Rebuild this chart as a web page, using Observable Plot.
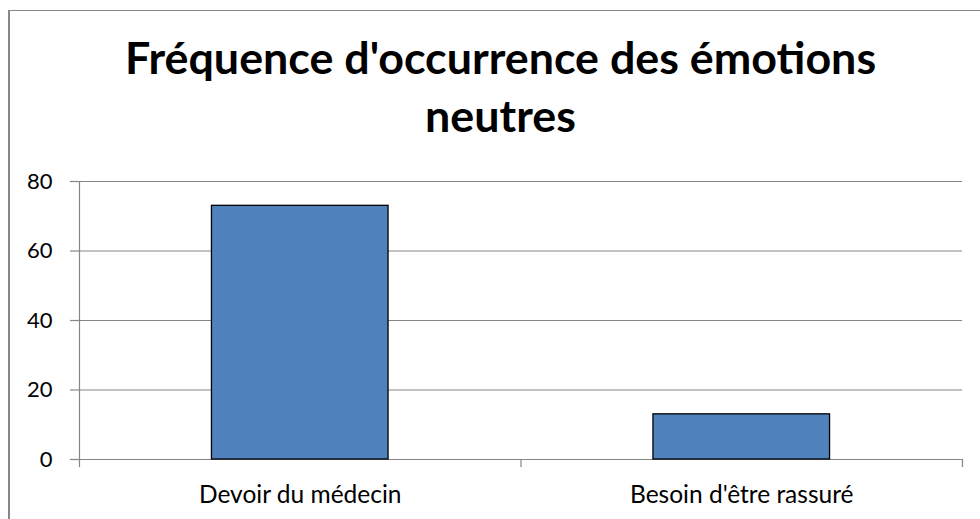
<!DOCTYPE html>
<html>
<head>
<meta charset="utf-8">
<script src="https://cdn.jsdelivr.net/npm/d3@7"></script>
<script src="https://cdn.jsdelivr.net/npm/@observablehq/plot@0.6"></script>
<style>
  html, body { margin: 0; padding: 0; background: #fff; }
  #wrap { position: relative; width: 980px; height: 519px; overflow: hidden; background: #fff; }
  #frame { position: absolute; left: 8px; top: 10px; width: 1100px; height: 700px;
           border-left: 2px solid #878787; border-top: 1.5px solid #878787; box-sizing: border-box; }
  #title { position: absolute; left: 0; top: 28px; width: 1001px; text-align: center;
           font-family: Lato, "Open Sans", sans-serif; font-weight: 700; font-size: 44.8px;
           line-height: 58px; color: #000; }
  #chart { position: absolute; left: 0; top: 170px; }
</style>
</head>
<body>
<div id="wrap">
  <div id="frame"></div>
  <div id="title">Fréquence d'occurrence des émotions<br>neutres</div>
  <div id="chart"></div>
</div>
<script>
const categories = ["Devoir du médecin", "Besoin d'être rassuré"];
const values = [73, 13];
const yTicks = [0, 20, 40, 60, 80];

const data = categories.map((c, i) => ({category: c, value: values[i], index: i}));
const gray = "#868686";

const chart = Plot.plot({
  width: 980,
  height: 349,
  marginTop: 11,
  marginBottom: 60,
  marginLeft: 79,
  marginRight: 18,
  style: {fontFamily: "Lato, 'Open Sans', sans-serif", fontSize: "22px", color: "#000", background: "transparent", overflow: "visible"},
  x: {domain: [0, categories.length]},
  y: {domain: [0, 80]},
  marks: [
    Plot.gridY(yTicks, {stroke: gray, strokeOpacity: 1, strokeWidth: 1.2}),
    Plot.axisY(yTicks, {tickSize: 9, tickPadding: 18, stroke: gray, strokeWidth: 1.2, fill: "#000",
      tickFormat: d => String(d), fontSize: 22, label: null}),
    Plot.axisX(d3.range(categories.length + 1), {tickSize: 8, tickFormat: () => "", stroke: gray, strokeWidth: 1.2, label: null}),
    Plot.axisX(categories.map((c, i) => i + 0.5), {tickSize: 0, tickPadding: 26.5, fill: "#000", fontSize: 24.5,
      tickFormat: d => categories[Math.floor(d)], label: null}),
    Plot.ruleX([0], {stroke: gray, strokeWidth: 1.2}),
    Plot.ruleY([0], {stroke: gray, strokeWidth: 1.2}),
    Plot.rectY(data, {x1: d => d.index + 0.3, x2: d => d.index + 0.7, y: "value",
      fill: "#4F81BD", stroke: "#000", strokeWidth: 1.3})
  ]
});
document.getElementById("chart").appendChild(chart);
</script>
</body>
</html>
